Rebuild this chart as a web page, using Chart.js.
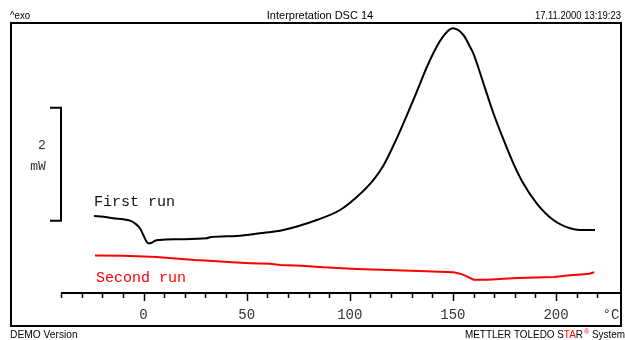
<!DOCTYPE html>
<html>
<head>
<meta charset="utf-8">
<title>Interpretation DSC 14</title>
<script src="https://cdn.jsdelivr.net/npm/chart.js@4/dist/chart.umd.min.js"></script>
<style>
    html, body { margin: 0; padding: 0; background: #fff; }
    #wrap { width: 625px; height: 340px; }
</style>
</head>
<body>
<div id="wrap"><canvas id="dscChart" width="625" height="340"></canvas></div>
<script>
// First heating run: temperature (°C) and heat flow (mW)
const firstRunTemp = [
    -24.0, -19.5, -14.7, -9.8, -6.6, -4.2, -1.7, -0.1, 1.5, 2.3, 4.0, 5.6, 8.0,
    16.1, 30.6, 32.2, 45.2, 56.4, 67.8, 84.0, 95.3, 103.4, 111.4, 116.2, 122.8,
    130.8, 138.9, 144.6, 149.9, 155.1, 158.3, 159.9, 164.8, 169.6, 174.4, 179.3,
    184.1, 190.6, 198.7, 206.8, 211.6, 218.9
];
const firstRunHeatFlow = [
    1.364, 1.351, 1.323, 1.305, 1.281, 1.235, 1.146, 1.027, 0.909, 0.880, 0.891, 0.926, 0.939,
    0.951, 0.969, 0.987, 1.010, 1.057, 1.116, 1.293, 1.470, 1.700, 2.000, 2.250, 2.740,
    3.418, 4.127, 4.511, 4.688, 4.570, 4.362, 4.245, 3.714, 3.188, 2.728, 2.297,
    1.943, 1.589, 1.293, 1.146, 1.116, 1.116
];

// Second heating run
const secondRunTemp = [
    -23.5, -9.8, 6.4, 15.3, 24.9, 33.8, 42.8, 51.7, 61.3, 66.2, 76.7, 87.1, 103.4,
    118.7, 140.5, 150.3, 153.5, 156.8, 160.0, 166.5, 181.2, 199.0, 205.5, 212.0,
    216.1, 218.5
];
const secondRunHeatFlow = [
    0.664, 0.661, 0.638, 0.611, 0.584, 0.567, 0.544, 0.528, 0.517, 0.496, 0.484, 0.455, 0.425,
    0.407, 0.381, 0.367, 0.342, 0.294, 0.236, 0.236, 0.266, 0.283, 0.312, 0.329,
    0.342, 0.367
];

// Temperature axis
const tempMin = -40;
const tempMax = 231.5;
const tickLabels = [0, 50, 100, 150, 200];
const minorStep = 10;
const minorLast = 220;

// Heat flow range and the 2 mW scale bar
const heatFlowMin = 0;
const heatFlowMax = 4.8;
const scaleBarBase = 1.28;
const scaleBarSpan = 2;

function toPoints(xs, ys) {
    return xs.map((x, i) => ({ x: x, y: ys[i] }));
}

// draws text squeezed horizontally, anchored at x by the current textAlign
function narrowText(ctx, txt, x, y, sx) {
    ctx.save();
    ctx.translate(x, y);
    ctx.scale(sx, 1);
    ctx.fillText(txt, 0, 0);
    ctx.restore();
}

// Frame, temperature axis, scale bar and captions
const dscFrame = {
    id: 'dscFrame',
    beforeDraw(chart) {
        const ctx = chart.ctx;
        ctx.save();
        ctx.fillStyle = '#fff';
        ctx.fillRect(0, 0, chart.width, chart.height);
        ctx.restore();
    },
    afterDraw(chart) {
        const ctx = chart.ctx;
        const xs = chart.scales.x;
        const ys = chart.scales.y;
        const area = chart.chartArea;
        const axisY = area.bottom;

        ctx.save();
        ctx.strokeStyle = '#000';
        ctx.lineWidth = 2;

        // outer frame
        ctx.strokeRect(11, 23, 610, 303);

        // axis line
        ctx.beginPath();
        ctx.moveTo(xs.getPixelForValue(tempMin), axisY);
        ctx.lineTo(area.right, axisY);
        ctx.stroke();

        // ticks every 10 °C, longer ones at the labels
        ctx.lineWidth = 1.5;
        for (let t = tempMin; t <= minorLast; t += minorStep) {
            const px = Math.round(xs.getPixelForValue(t)) + 0.5;
            const len = tickLabels.includes(t) ? 8 : 5;
            ctx.beginPath();
            ctx.moveTo(px, axisY);
            ctx.lineTo(px, axisY + len);
            ctx.stroke();
        }

        ctx.fillStyle = '#333';
        ctx.font = '14px "Liberation Mono"';
        ctx.textAlign = 'center';
        ctx.textBaseline = 'middle';
        tickLabels.forEach(t => {
            ctx.fillText(String(t), xs.getPixelForValue(t), 315);
        });
        ctx.fillText('°C', 611, 315);

        // 2 mW scale bar
        const barTop = ys.getPixelForValue(scaleBarBase + scaleBarSpan);
        const barBottom = ys.getPixelForValue(scaleBarBase);
        ctx.strokeStyle = '#000';
        ctx.lineWidth = 2;
        ctx.beginPath();
        ctx.moveTo(50, barTop);
        ctx.lineTo(61, barTop);
        ctx.lineTo(61, barBottom);
        ctx.lineTo(50, barBottom);
        ctx.stroke();

        ctx.fillStyle = '#333';
        ctx.font = '13px "Liberation Mono"';
        ctx.fillText(String(scaleBarSpan), 42, 146);
        ctx.fillText('mW', 38, 167);

        // run captions
        ctx.textAlign = 'left';
        ctx.font = '15px "Liberation Mono"';
        ctx.fillStyle = '#111';
        ctx.fillText('First run', 94, 202);
        ctx.fillStyle = '#ff0000';
        ctx.fillText('Second run', 96, 278);

        // header
        ctx.font = '11px "Liberation Sans"';
        ctx.fillStyle = '#000';
        narrowText(ctx, '^exo', 10, 16, 0.88);
        ctx.textAlign = 'center';
        ctx.fillText('Interpretation DSC 14', 320, 16);
        ctx.textAlign = 'right';
        narrowText(ctx, '17.11.2000 13:19:23', 621, 16, 0.86);

        // footer
        ctx.textAlign = 'left';
        narrowText(ctx, 'DEMO Version', 10, 335, 0.93);
        const parts = [
            ['METTLER TOLEDO S', '#000'],
            ['TA', '#ff0000'],
            ['R', '#000'],
            ['\u00AE', '#ff0000'],
            [' System', '#000']
        ];
        const sx = 0.9;
        let fx = 465;
        parts.forEach(([txt, col]) => {
            ctx.fillStyle = col;
            if (txt === '\u00AE') {
                ctx.font = '8px "Liberation Sans"';
                narrowText(ctx, txt, fx + 1, 332, sx);
                fx += ctx.measureText(txt).width * sx + 1;
                ctx.font = '11px "Liberation Sans"';
            } else {
                narrowText(ctx, txt, fx, 335, sx);
                fx += ctx.measureText(txt).width * sx;
            }
        });
        ctx.restore();
    }
};

new Chart(document.getElementById('dscChart').getContext('2d'), {
    type: 'line',
    data: {
        datasets: [
            {
                label: 'First run',
                data: toPoints(firstRunTemp, firstRunHeatFlow),
                borderColor: '#000',
                borderWidth: 2,
                pointRadius: 0,
                cubicInterpolationMode: 'monotone',
                fill: false
            },
            {
                label: 'Second run',
                data: toPoints(secondRunTemp, secondRunHeatFlow),
                borderColor: '#ff0000',
                borderWidth: 2,
                pointRadius: 0,
                tension: 0,
                fill: false
            }
        ]
    },
    options: {
        responsive: false,
        animation: false,
        layout: {
            padding: { left: 61, right: 4, top: 22, bottom: 47 }
        },
        scales: {
            x: { type: 'linear', min: tempMin, max: tempMax, display: false },
            y: { min: heatFlowMin, max: heatFlowMax, display: false }
        },
        plugins: {
            legend: { display: false },
            tooltip: { enabled: false }
        }
    },
    plugins: [dscFrame]
});
</script>
</body>
</html>
